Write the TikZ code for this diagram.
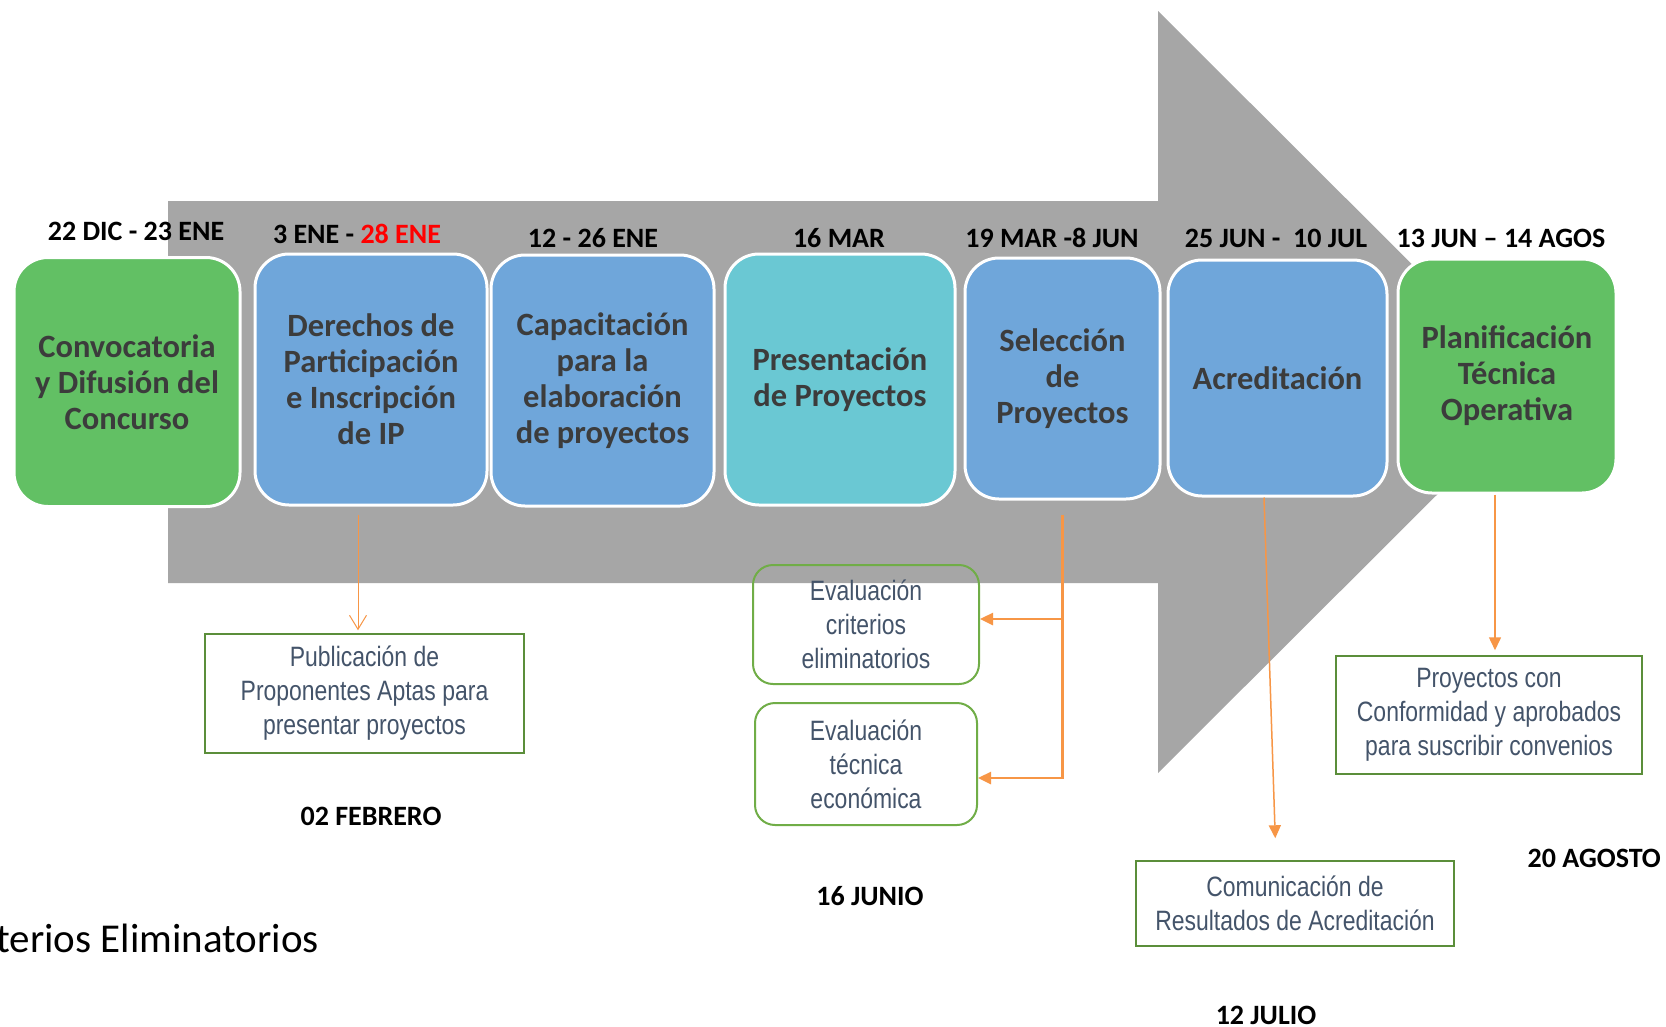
\documentclass[tikz,border=0pt]{standalone}
\usepackage{fontspec}
\setmainfont{Carlito}
\newfontfamily\narrowfont[FakeStretch=0.82]{Liberation Sans}
\usetikzlibrary{arrows.meta,positioning}
\definecolor{grs}{HTML}{A6A6A6}
\definecolor{vrd}{HTML}{62C064}
\definecolor{azl}{HTML}{6FA6DA}
\definecolor{tql}{HTML}{6AC8D3}
\definecolor{txt}{HTML}{3C3C3C}
\definecolor{nta}{HTML}{44546A}
\definecolor{brd}{HTML}{5B8E3A}
\definecolor{brdl}{HTML}{70AD47}
\definecolor{nar}{HTML}{F79646}
\tikzset{
  stage/.style={draw=white, line width=3pt, rounded corners=34pt, text=txt, align=center,
    inner sep=0pt, font=\bfseries\fontsize{32.5}{36}\selectfont},
  stageG/.style={stage, fill=vrd},
  stageB/.style={stage, fill=azl},
  stageT/.style={stage, fill=tql},
  fecha/.style={font=\bfseries\fontsize{28}{32}\selectfont, inner sep=0pt},
  nota/.style={draw=brd, line width=1.5pt, text=nta, align=center, inner sep=0pt,
    font=\narrowfont\fontsize{28}{34}\selectfont},
  evalbox/.style={nota, draw=brdl, line width=2pt, rounded corners=20pt},
  conn/.style={nar, line width=2.5pt, -{Triangle[length=13pt,width=12pt]}},
  slimconn/.style={nar, line width=1.5pt, -{Triangle[length=13pt,width=12pt]}},
  thinconn/.style={nar, line width=1pt, -{Straight Barb[length=14pt,width=17pt]}},
}

\begin{document}
\begin{tikzpicture}[x=1pt,y=-1pt]
\useasboundingbox (0,0) rectangle (1666,1026);
\fill[white] (0,0) rectangle (1666,1026);
\clip (0,0) rectangle (1666,1026);

% ===================== the big grey arrow ========================
\fill[grs] (168,201) -- (1158,201) -- (1158,11) -- (1540,392)
  -- (1158,773) -- (1158,583) -- (168,583) -- cycle;

% ===================== stages along the arrow ====================
\node[stageG, minimum width=226pt, minimum height=249pt] (b1) at (127,382)
  {Convocatoria\\y Difusión del\\Concurso};
\node[stageB, minimum width=232pt, minimum height=251pt] (b2) at (371,379.5)
  {Derechos de\\Participación\\e Inscripción\\de IP};
\node[stageB, minimum width=223pt, minimum height=251pt] (b3) at (602.5,380.5)
  {Capacitación\\para la\\elaboración\\de proyectos};
\node[stageT, minimum width=230pt, minimum height=251pt] (b4) at (840,379.5)
  {Presentación\\de Proyectos};
\node[stageB, minimum width=195pt, minimum height=241pt] (b5) at (1062.5,378.5)
  {Selección\\de\\Proyectos};
\node[stageB, minimum width=219pt, minimum height=236pt] (b6) at (1277.5,378)
  {Acreditación};
\node[stageG, minimum width=218pt, minimum height=234pt] (b7) at (1507,376)
  {Planificación\\Técnica\\Operativa};

% dates above the stages
\node[fecha] (d1) at (136,231) {22 DIC - 23 ENE};
\node[fecha] (d2) at (357,234) {3 ENE - \textcolor{red}{28 ENE}};
\node[fecha] (d3) at (593,238) {12 - 26 ENE};
\node[fecha] (d4) at (839,238) {16 MAR};
\node[fecha] (d5) at (1052,238) {19 MAR -8 JUN};
\node[fecha] (d6) at (1276,238) {25 JUN -\ \ 10 JUL};
\node[fecha] (d7) at (1501,238) {13 JUN -- 14 AGOS};

% ===================== results below the arrow ===================
\node[nota, minimum width=319pt, minimum height=119pt] (pub) at (364.5,693.5)
  {Publicación de\\Proponentes Aptas para\\presentar proyectos};
\node[evalbox, minimum width=226pt, minimum height=119pt] (e1) at (866,624.5)
  {Evaluación\\criterios\\eliminatorios};
\node[evalbox, minimum width=222pt, minimum height=122pt] (e2) at (866,764)
  {Evaluación\\técnica\\económica};
\node[nota, minimum width=318pt, minimum height=85pt] (com) at (1295,903.5)
  {Comunicación de\\Resultados de Acreditación};
\node[nota, minimum width=306pt, minimum height=118pt] (proy) at (1489,715)
  {Proyectos con\\Conformidad y aprobados\\para suscribir convenios};

\node[fecha] (f1) at (371,816) {02 FEBRERO};
\node[fecha] (f2) at (870,896) {16 JUNIO};
\node[fecha] (f3) at (1266,1015) {12 JULIO};
\node[fecha, anchor=east] (f4) at (1661,858) {20 AGOSTO};
\node[font=\fontsize{41}{46}\selectfont, anchor=east, inner sep=0pt] (crit) at (319,938)
  {Criterios Eliminatorios};

% connectors
\draw[thinconn, shorten <=8pt, shorten >=3pt] ([xshift=-13pt]b2.south) -- ([xshift=-6.5pt]pub.north);
\coordinate (r1) at ([yshift=5.5pt]e1.east);
\coordinate (r2) at ([yshift=-14pt]e2.east);
\draw[conn, shorten <=14pt] (b5.south) |- (r2);
\draw[conn] (b5.south |- r1) -- (r1);
\draw[slimconn, shorten >=22pt] ([xshift=-13.5pt]b6.south) -- ([xshift=-19pt]com.north);
\draw[slimconn, shorten >=5pt] ([xshift=-12pt]b7.south) -- ([xshift=6pt]proy.north);

\end{tikzpicture}
\end{document}
